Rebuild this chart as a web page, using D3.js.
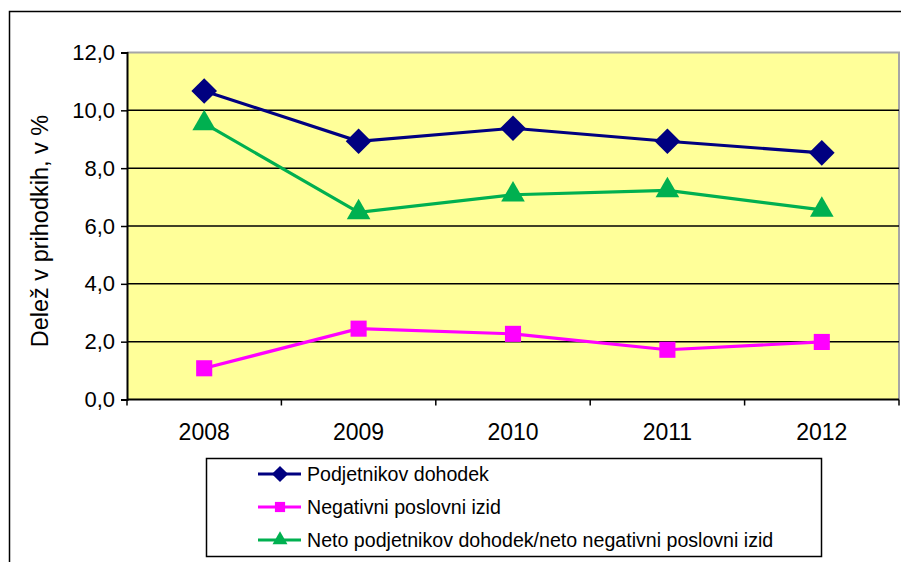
<html>
<head>
<meta charset="utf-8">
<title>Delež v prihodkih</title>
<style>
body { margin: 0; background: #fff; }
text { font-family: "Liberation Sans", Arial, sans-serif; fill: #000; }
</style>
</head>
<body>
<script src="https://cdn.jsdelivr.net/npm/d3@7/dist/d3.min.js"></script>
<svg id="chart"></svg>
<script>

var years = ["2008", "2009", "2010", "2011", "2012"];
var podjetnikov = [10.67, 8.93, 9.38, 8.93, 8.53];
var negativni = [1.08, 2.45, 2.27, 1.72, 1.99];
var neto = [9.55, 6.47, 7.08, 7.23, 6.56];
var yTicks = [0, 2, 4, 6, 8, 10, 12];

var series = [
  {name: "Podjetnikov dohodek", values: podjetnikov, color: "#000080", symbol: d3.symbolDiamond2, size: 420},
  {name: "Negativni poslovni izid", values: negativni, color: "#FF00FF", symbol: d3.symbolSquare2, size: 330},
  {name: "Neto podjetnikov dohodek/neto negativni poslovni izid", values: neto, color: "#00B050", symbol: d3.symbolTriangle2, size: 400}
];

var W = 901, H = 562;
var pLeft = 127, pRight = 899, pTop = 52.5, pBottom = 399.5;

var svg = d3.select("#chart").attr("width", W).attr("height", H);

// outer frame (runs off the picture on the right and bottom)
svg.append("rect")
  .attr("x", 9.5).attr("y", 11.5).attr("width", 1000).attr("height", 1000)
  .attr("fill", "none").attr("stroke", "#000").attr("stroke-width", 1.5);

var x = d3.scaleBand().domain(years).range([pLeft, pRight]);
var y = d3.scaleLinear().domain([0, 12]).range([pBottom, pTop]);

// plot background
svg.append("rect")
  .attr("x", pLeft).attr("y", pTop).attr("width", pRight - pLeft).attr("height", pBottom - pTop)
  .attr("fill", "#FFFF99");

// plot border top / right (grey)
svg.append("path")
  .attr("d", "M" + pLeft + "," + pTop + "H" + pRight + "V" + pBottom)
  .attr("fill", "none").attr("stroke", "#A6A6A6").attr("stroke-width", 2);

// gridlines
svg.append("g").selectAll("line")
  .data(yTicks.filter(function(d) { return d > 0 && d < 12; }))
  .enter().append("line")
    .attr("x1", pLeft).attr("x2", pRight)
    .attr("y1", function(d) { return y(d); })
    .attr("y2", function(d) { return y(d); })
    .attr("stroke", "#000").attr("stroke-width", 1.5);

// y axis
var yAxis = d3.axisLeft(y).tickValues(yTicks).tickSize(6).tickPadding(6)
  .tickFormat(function(d) { return d3.format(".1f")(d).replace(".", ","); });
var gy = svg.append("g").attr("transform", "translate(" + pLeft + ",0)").call(yAxis);
gy.select(".domain").attr("stroke", "#000").attr("stroke-width", 2);
gy.selectAll(".tick line").attr("stroke", "#000").attr("stroke-width", 1.5);
gy.selectAll(".tick text").style("font-size", "22px").attr("fill", "#000")
  .style("font-family", "'Liberation Sans', Arial, sans-serif");

// x axis with ticks between categories
svg.append("line")
  .attr("x1", pLeft).attr("x2", pRight).attr("y1", pBottom).attr("y2", pBottom)
  .attr("stroke", "#000").attr("stroke-width", 2);
var bounds = years.map(function(d) { return x(d); }).concat([x(years[years.length - 1]) + x.bandwidth()]);
svg.append("g").selectAll("line")
  .data(bounds)
  .enter().append("line")
    .attr("x1", function(d) { return d; }).attr("x2", function(d) { return d; })
    .attr("y1", pBottom).attr("y2", pBottom + 6)
    .attr("stroke", "#000").attr("stroke-width", 1.5);
svg.append("g").selectAll("text")
  .data(years)
  .enter().append("text")
    .attr("x", function(d) { return x(d) + x.bandwidth() / 2; })
    .attr("y", pBottom + 40)
    .attr("text-anchor", "middle")
    .style("font-size", "23px")
    .text(function(d) { return d; });

// y label
svg.append("text")
  .attr("transform", "translate(48,231) rotate(-90)")
  .attr("text-anchor", "middle")
  .style("font-size", "23.5px")
  .text("Delež v prihodkih, v %");

// lines + markers
var line = d3.line()
  .x(function(d, i) { return x(years[i]) + x.bandwidth() / 2; })
  .y(function(d) { return y(d); });

series.forEach(function(s) {
  svg.append("path")
    .attr("d", line(s.values))
    .attr("fill", "none").attr("stroke", s.color).attr("stroke-width", 3.2);
  svg.append("g").selectAll("path")
    .data(s.values)
    .enter().append("path")
      .attr("d", d3.symbol().type(s.symbol).size(s.size))
      .attr("transform", function(d, i) {
        return "translate(" + (x(years[i]) + x.bandwidth() / 2) + "," + y(d) + ")";
      })
      .attr("fill", s.color);
});

// legend
var lg = svg.append("g");
lg.append("rect")
  .attr("x", 206.5).attr("y", 458.5).attr("width", 615).attr("height", 98)
  .attr("fill", "#fff").attr("stroke", "#000").attr("stroke-width", 1.5);
var rowY = [474, 507, 540];
series.forEach(function(s, i) {
  lg.append("line")
    .attr("x1", 258).attr("x2", 301).attr("y1", rowY[i]).attr("y2", rowY[i])
    .attr("stroke", s.color).attr("stroke-width", 3);
  lg.append("path")
    .attr("d", d3.symbol().type(s.symbol).size(s.size * 0.4))
    .attr("transform", "translate(280," + rowY[i] + ")")
    .attr("fill", s.color);
  lg.append("text")
    .attr("x", 307).attr("y", rowY[i] + 7)
    .style("font-size", "19.6px")
    .text(s.name);
});

</script>
</body>
</html>
